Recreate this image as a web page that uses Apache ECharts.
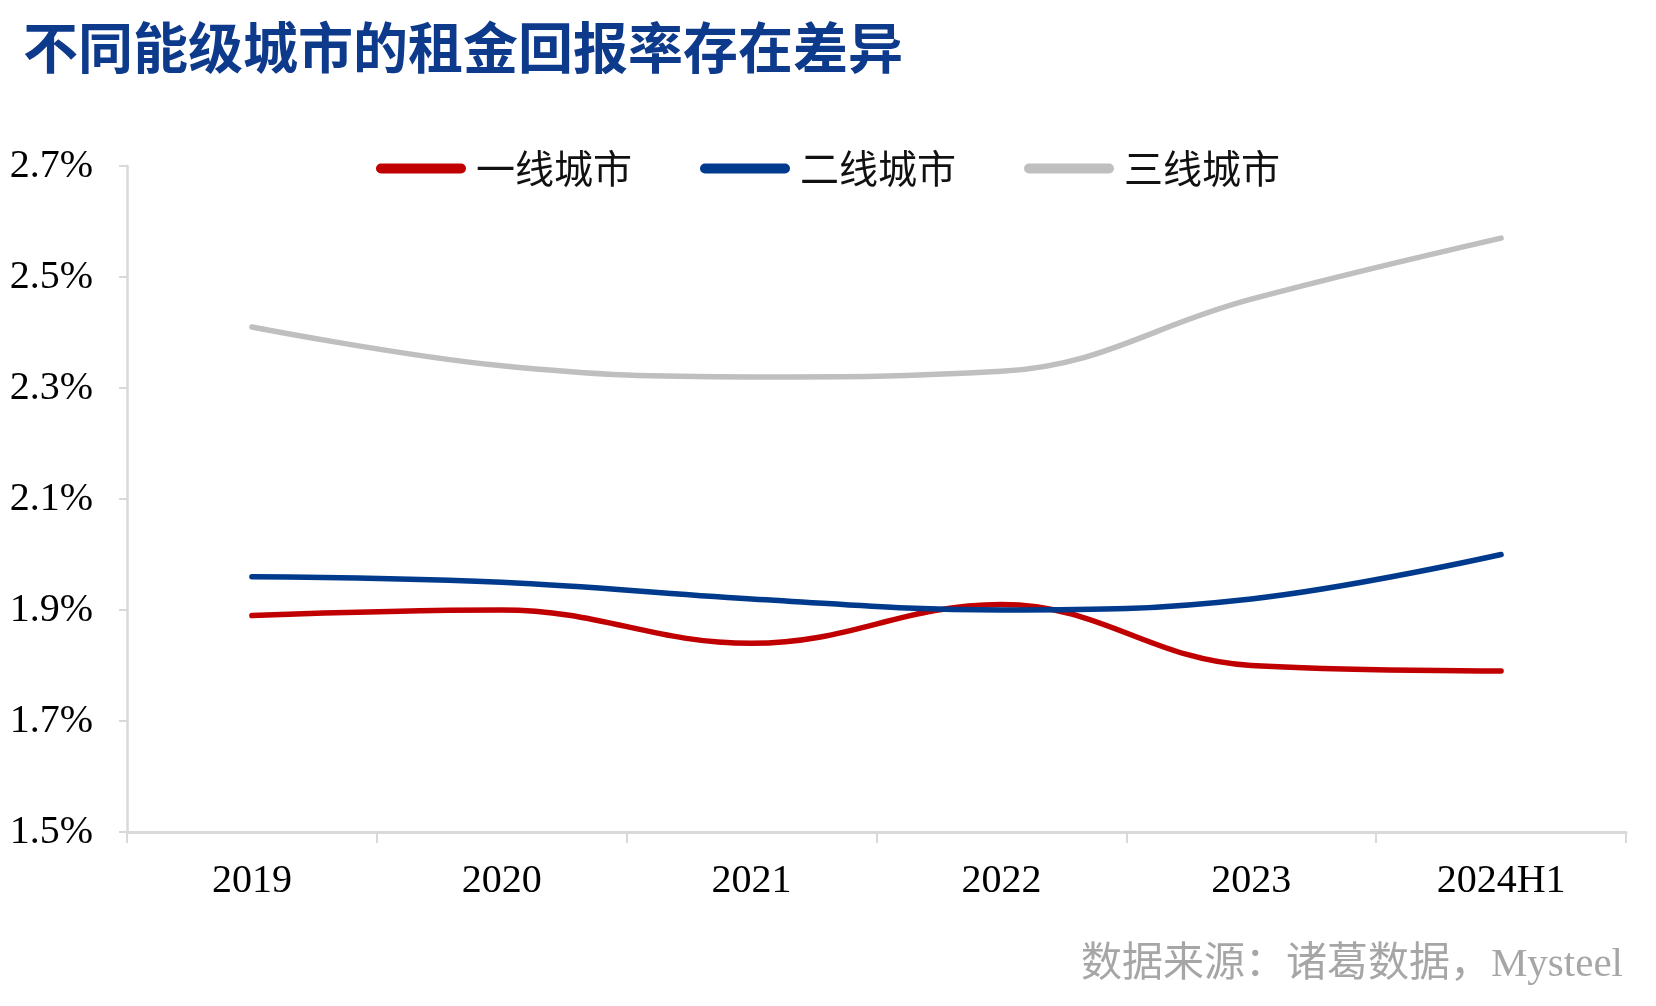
<!DOCTYPE html>
<html>
<head>
<meta charset="utf-8">
<script src="https://cdn.jsdelivr.net/npm/echarts@6/dist/echarts.min.js"></script>
<style>
html,body{margin:0;padding:0;background:#fff;}
#c{width:1656px;height:1006px;}
</style>
</head>
<body>
<div id="c"></div>
<script>
const categories = ['2019', '2020', '2021', '2022', '2023', '2024H1'];
const tier1 = [1.89, 1.90, 1.84, 1.91, 1.80, 1.79];
const tier2 = [1.96, 1.95, 1.92, 1.90, 1.92, 2.00];
const tier3 = [2.41, 2.34, 2.32, 2.33, 2.46, 2.57];
const yTicks = [1.5, 1.7, 1.9, 2.1, 2.3, 2.5, 2.7];
const seriesNames = ['一线城市', '二线城市', '三线城市'];
const colors = ['#C00000', '#003A8C', '#BFBFBF'];

const chart = echarts.init(document.getElementById('c'), null, {renderer: 'canvas'});
const pill = 'path://M5,0 L85,0 A5,5 0 0 1 85,10 L5,10 A5,5 0 0 1 5,0 Z';
const mk = (name, data, color) => ({
  name: name, type: 'line', data: data, smooth: 0.4, symbol: 'none',
  lineStyle: {color: color, width: 5.5, cap: 'round'}, itemStyle: {color: color}
});
chart.setOption({
  animation: false,
  backgroundColor: '#fff',
  title: {
    text: '不同能级城市的租金回报率存在差异',
    left: 18, top: 15,
    textStyle: {fontFamily: 'Noto Sans CJK SC', fontWeight: 'bold', fontSize: 55, color: '#0E3A8C'}
  },
  graphic: [{
    type: 'text', right: 33, top: 945,
    style: {text: '数据来源：诸葛数据，Mysteel', fill: '#A6A6A6', fontSize: 41,
      fontFamily: 'Liberation Serif, Noto Sans CJK SC'}
  }],
  legend: {
    data: seriesNames.map((n) => ({name: n, icon: pill})),
    left: 'center', top: 144,
    itemWidth: 90, itemHeight: 10, itemGap: 68,
    textStyle: {fontFamily: 'Noto Sans CJK SC', fontSize: 39, color: '#111', padding: [0, 0, 0, 5]}
  },
  grid: {left: 127, right: 30, top: 166, bottom: 174, containLabel: false},
  xAxis: {
    type: 'category', data: categories, boundaryGap: true,
    axisLine: {lineStyle: {color: '#D9D9D9', width: 3}},
    axisTick: {show: true, length: 11, lineStyle: {color: '#D9D9D9', width: 2}},
    axisLabel: {fontFamily: 'Liberation Serif', fontSize: 40, color: '#000', margin: 29}
  },
  yAxis: {
    type: 'value', min: 1.5, max: 2.7,
    axisLine: {show: true, lineStyle: {color: '#D9D9D9', width: 2.5}},
    axisTick: {show: true, length: 8, customValues: yTicks, lineStyle: {color: '#D9D9D9', width: 2}},
    splitLine: {show: false},
    axisLabel: {customValues: yTicks, fontFamily: 'Liberation Serif', fontSize: 40, color: '#000', margin: 34,
      formatter: (v) => v.toFixed(1) + '%'}
  },
  series: [mk(seriesNames[0], tier1, colors[0]), mk(seriesNames[1], tier2, colors[1]), mk(seriesNames[2], tier3, colors[2])]
});
</script>
</body>
</html>
